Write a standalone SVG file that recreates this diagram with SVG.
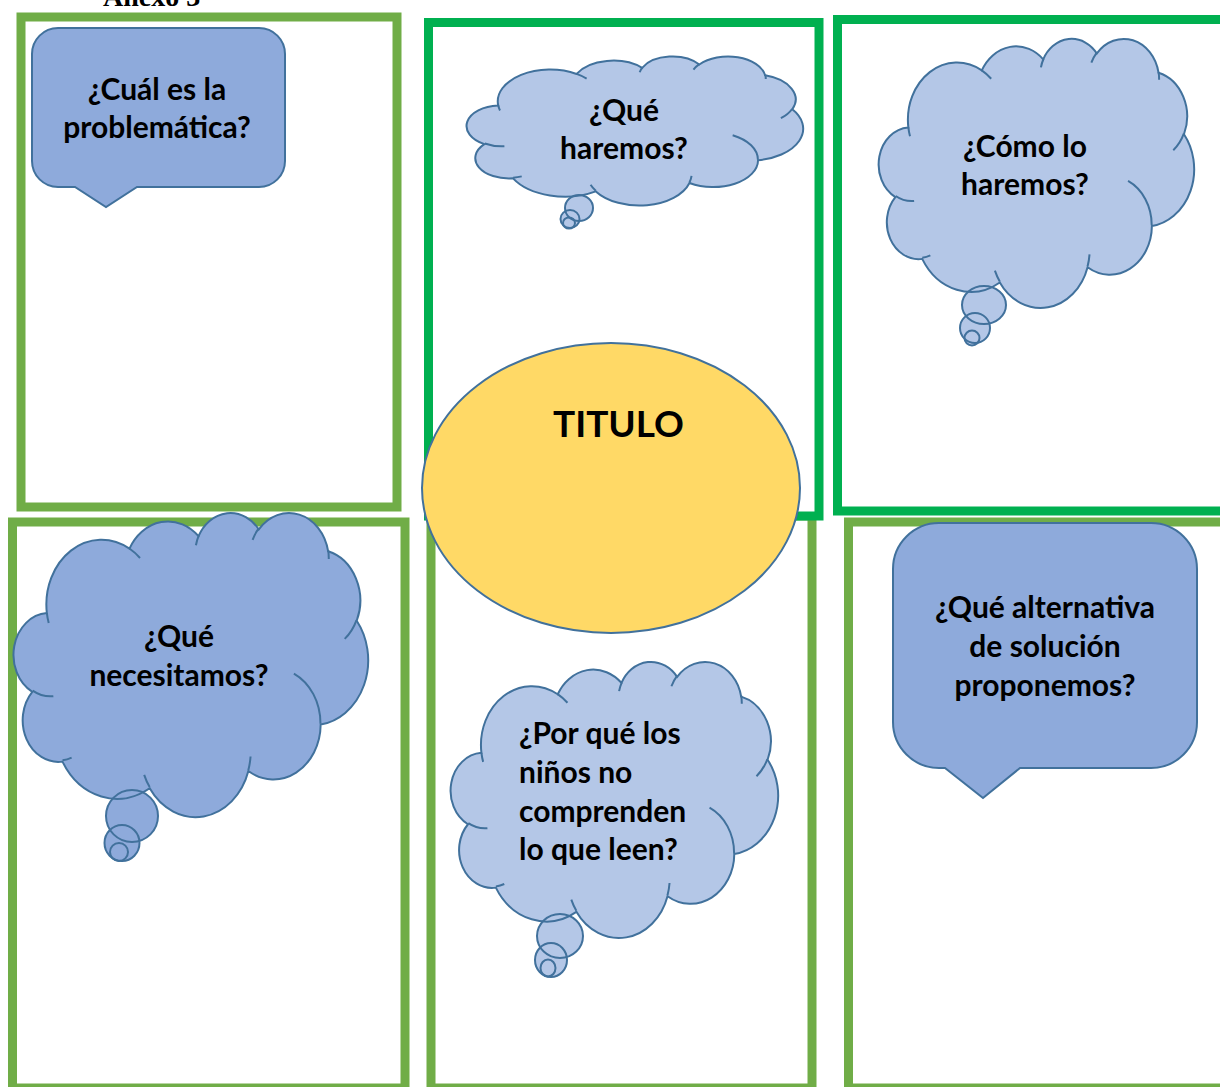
<svg xmlns="http://www.w3.org/2000/svg" xmlns:xlink="http://www.w3.org/1999/xlink" width="1220" height="1087" viewBox="0 0 1220 1087">
<style>
.lg{fill:#FFFFFF;stroke:#70AD47;stroke-width:9}
.bg{fill:#FFFFFF;stroke:#00B050;stroke-width:9}
.dark{fill:#8EAADB;stroke:#41719C;stroke-width:2}
.lightf{fill:#B4C7E7;stroke:none}
.darkf{fill:#8EAADB;stroke:none}
.cs{fill:none;stroke:#41719C;stroke-width:2}
.t{font-family:Lato,"Liberation Sans",Arial,sans-serif;font-weight:bold;font-size:30px;fill:#000000}
.c{text-anchor:middle}
</style>
<defs>
<path id="cloud" vector-effect="non-scaling-stroke" d="M3900 14370 A6753 9190 0 0 1 14006 5203 A5333 7267 0 0 1 22458 3432 A4365 5945 0 0 1 29834 2478 A4857 6595 0 0 1 38319 5573 A5333 7273 0 0 1 41820 15457 A6775 9220 0 0 1 37407 30203 A5785 7867 0 0 1 28559 36813 A6752 9215 0 0 1 16484 39265 A7720 10543 0 0 1 5808 35472 A4360 5918 0 0 1 2115 25552 A4345 5945 0 0 1 3900 14370 Z"/>
<path id="inner" vector-effect="non-scaling-stroke" d="M4693 26177 A4345 5945 0 0 1 2159 25380 M6928 34899 A4360 5918 0 0 1 5819 35281 M16478 39090 A6752 9215 0 0 1 15809 37348 M28827 34751 A6752 9215 0 0 1 28560 36660 M34129 22954 A5785 7867 0 0 1 37380 30090 M41798 15354 A5333 7273 0 0 1 40349 18031 M38324 5426 A4857 6595 0 0 1 38400 6690 M29078 3952 A4857 6595 0 0 1 29820 2339 M22141 4720 A4365 5945 0 0 1 22500 3331 M14000 5192 A6753 9190 0 0 1 15299 6540 M4127 15789 A6753 9190 0 0 1 3900 14371"/>
</defs>

<text x="103" y="6" style="font-family:'Liberation Serif','Times New Roman',serif;font-weight:bold;font-size:28px" fill="#000">Anexo 3</text>

<g id="box-problematica">
<rect class="lg" x="21" y="17" width="376" height="490"/>
</g>
<g id="box-necesitamos">
<rect class="lg" x="12.5" y="522" width="392.5" height="566"/>
</g>
<g id="box-porque">
<rect class="lg" x="431" y="516" width="381" height="572"/>
</g>
<g id="box-alternativa">
<rect class="lg" x="848.5" y="522" width="420" height="566"/>
</g>
<g id="box-haremos">
<rect class="bg" x="428.5" y="22.5" width="390.5" height="493.5"/>
</g>
<g id="box-como">
<rect class="bg" x="837.5" y="19.5" width="420" height="491.5"/>
</g>

<g id="connectors"></g>

<g id="callout-problematica">
<path class="dark" d="M58 28 H259 A26 26 0 0 1 285 54 V161 A26 26 0 0 1 259 187 H137 L106 207 L75 187 H58 A26 26 0 0 1 32 161 V54 A26 26 0 0 1 58 28 Z"/>
<text class="t c" x="157" y="100">¿Cuál es la</text>
<text class="t c" x="157" y="138">problemática?</text>
</g>

<g id="cloud-haremos">
<use xlink:href="#cloud" href="#cloud" class="lightf" transform="translate(468 56) scale(0.0077546 0.0034491)"/>
<g class="lightf"><ellipse cx="579" cy="208" rx="14" ry="13"/><ellipse cx="570" cy="219" rx="9.5" ry="9"/><ellipse cx="569" cy="223" rx="6" ry="5.5"/></g>
<use xlink:href="#cloud" href="#cloud" class="cs" transform="translate(468 56) scale(0.0077546 0.0034491)"/>
<use xlink:href="#inner" href="#inner" class="cs" transform="translate(468 56) scale(0.0077546 0.0034491)"/>
<g class="cs"><ellipse cx="579" cy="208" rx="14" ry="13"/><ellipse cx="570" cy="219" rx="9.5" ry="9"/><ellipse cx="569" cy="223" rx="6" ry="5.5"/></g>
<text class="t c" x="624" y="121">¿Qué</text>
<text class="t c" x="624" y="159">haremos?</text>
</g>

<g id="cloud-como">
<use xlink:href="#cloud" href="#cloud" class="lightf" transform="translate(880 38) scale(0.0072685 0.0062269)"/>
<g class="lightf"><ellipse cx="984" cy="305" rx="22" ry="19"/><ellipse cx="975" cy="328" rx="15" ry="15"/><ellipse cx="972" cy="338" rx="7.5" ry="7.5"/></g>
<use xlink:href="#cloud" href="#cloud" class="cs" transform="translate(880 38) scale(0.0072685 0.0062269)"/>
<use xlink:href="#inner" href="#inner" class="cs" transform="translate(880 38) scale(0.0072685 0.0062269)"/>
<g class="cs"><ellipse cx="984" cy="305" rx="22" ry="19"/><ellipse cx="975" cy="328" rx="15" ry="15"/><ellipse cx="972" cy="338" rx="7.5" ry="7.5"/></g>
<text class="t c" x="1025" y="157">¿Cómo lo</text>
<text class="t c" x="1025" y="195">haremos?</text>
</g>

<g id="titulo">
<ellipse cx="611" cy="488" rx="189" ry="145" fill="#FFD966" stroke="#41719C" stroke-width="2"/>
<text class="t c" x="618.5" y="437" style="font-size:37px">TITULO</text>
</g>

<g id="cloud-necesitamos">
<use xlink:href="#cloud" href="#cloud" class="darkf" transform="translate(15 512) scale(0.0081713 0.0070370)"/>
<g class="darkf"><ellipse cx="132" cy="816" rx="26" ry="26"/><ellipse cx="122" cy="843" rx="17.5" ry="18"/><ellipse cx="119" cy="852" rx="9" ry="9"/></g>
<use xlink:href="#cloud" href="#cloud" class="cs" transform="translate(15 512) scale(0.0081713 0.0070370)"/>
<use xlink:href="#inner" href="#inner" class="cs" transform="translate(15 512) scale(0.0081713 0.0070370)"/>
<g class="cs"><ellipse cx="132" cy="816" rx="26" ry="26"/><ellipse cx="122" cy="843" rx="17.5" ry="18"/><ellipse cx="119" cy="852" rx="9" ry="9"/></g>
<text class="t c" x="179" y="647">¿Qué</text>
<text class="t c" x="179" y="686">necesitamos?</text>
</g>

<g id="cloud-porque">
<use xlink:href="#cloud" href="#cloud" class="lightf" transform="translate(452 661) scale(0.0075463 0.0063889)"/>
<g class="lightf"><ellipse cx="560" cy="936" rx="23" ry="22"/><ellipse cx="551" cy="960" rx="16" ry="17"/><ellipse cx="548" cy="968" rx="7.5" ry="8.5"/></g>
<use xlink:href="#cloud" href="#cloud" class="cs" transform="translate(452 661) scale(0.0075463 0.0063889)"/>
<use xlink:href="#inner" href="#inner" class="cs" transform="translate(452 661) scale(0.0075463 0.0063889)"/>
<g class="cs"><ellipse cx="560" cy="936" rx="23" ry="22"/><ellipse cx="551" cy="960" rx="16" ry="17"/><ellipse cx="548" cy="968" rx="7.5" ry="8.5"/></g>
<text class="t" x="519" y="744">¿Por qué los</text>
<text class="t" x="519" y="783">niños no</text>
<text class="t" x="519" y="822">comprenden</text>
<text class="t" x="519" y="860">lo que leen?</text>
</g>

<g id="callout-alternativa">
<path class="dark" d="M939 523 H1151 A46 46 0 0 1 1197 569 V722 A46 46 0 0 1 1151 768 H1020 L983 798 L945 768 H939 A46 46 0 0 1 893 722 V569 A46 46 0 0 1 939 523 Z"/>
<text class="t c" x="1045" y="618">¿Qué alternativa</text>
<text class="t c" x="1045" y="657">de solución</text>
<text class="t c" x="1045" y="696">proponemos?</text>
</g>
</svg>
